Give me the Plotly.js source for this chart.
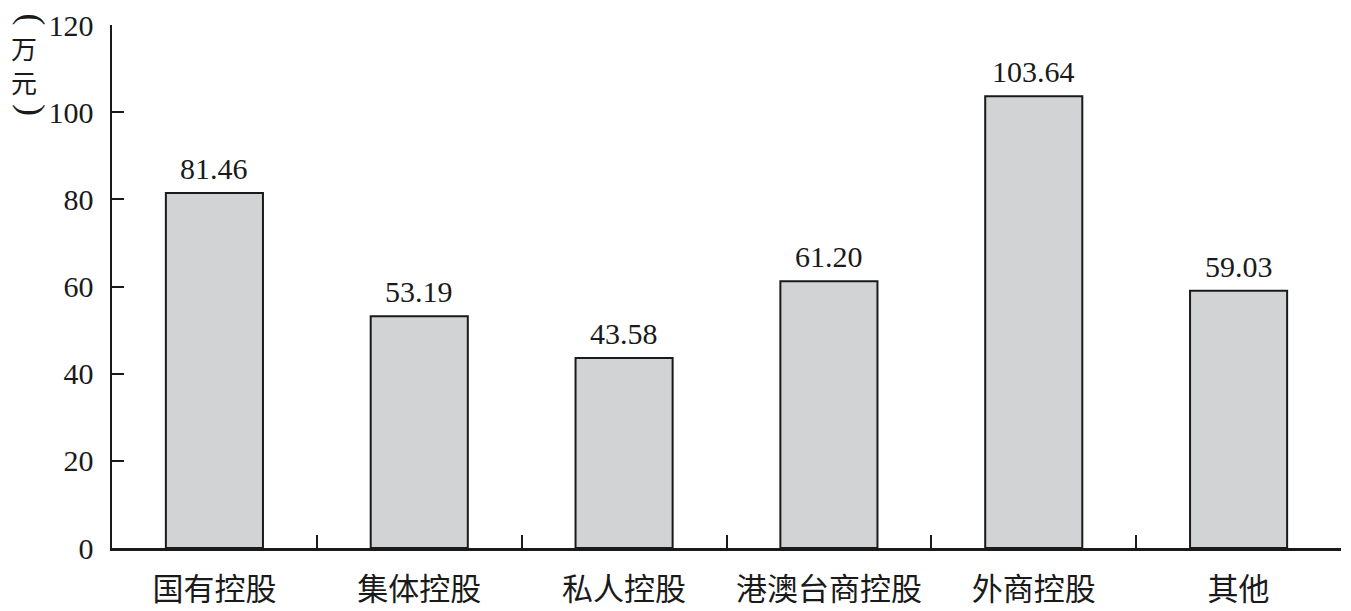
<!DOCTYPE html>
<html>
<head>
<meta charset="utf-8">
<script src="https://cdn.plot.ly/plotly-3.0.1.min.js"></script>
<style>
  body { margin: 0; background: #fff; }
  #chart { width: 1351px; height: 611px; }
</style>
</head>
<body>
<div id="chart"></div>
<script>
const CATEGORIES = ['国有控股', '集体控股', '私人控股', '港澳台商控股', '外商控股', '其他']
const VALUES = [81.46, 53.19, 43.58, 61.20, 103.64, 59.03]
const Y_TICKS = [0, 20, 40, 60, 80, 100, 120]

const INK = '#1a1a1a'
const SERIF = 'Liberation Serif, Times New Roman, Noto Sans CJK SC, serif'
const CJK = 'Noto Sans CJK SC, sans-serif'

let data = [
  {
    type: 'bar',
    x: CATEGORIES,
    y: VALUES,
    marker: {
      color: '#d1d3d5',
      line: { color: INK, width: 2 }
    },
    hoverinfo: 'skip'
  }
]

// value labels above each bar
let annotations = CATEGORIES.map((c, i) => ({
  x: c,
  y: VALUES[i],
  text: VALUES[i].toFixed(2),
  showarrow: false,
  yanchor: 'bottom',
  yshift: 6,
  font: { family: SERIF, size: 30, color: INK }
}))

// vertical unit label: rotated brackets round the stacked characters
annotations.push(
  {
    xref: 'paper', yref: 'paper', x: -0.083, y: 1.026,
    text: '(', textangle: 90, showarrow: false,
    font: { family: SERIF, size: 36, color: INK }
  },
  {
    xref: 'paper', yref: 'paper', x: -0.0716, y: 0.9245,
    text: '万<br>元', showarrow: false,
    xanchor: 'center', yanchor: 'middle',
    font: { family: CJK, size: 26, color: INK }
  },
  {
    xref: 'paper', yref: 'paper', x: -0.083, y: 0.853,
    text: ')', textangle: 90, showarrow: false,
    font: { family: SERIF, size: 36, color: INK }
  }
)

let layout = {
  width: 1351,
  height: 611,
  paper_bgcolor: '#fff',
  plot_bgcolor: '#fff',
  showlegend: false,
  bargap: 0.526,
  margin: { l: 112, r: 10, t: 25, b: 63 },
  xaxis: {
    type: 'category',
    showgrid: false,
    zeroline: false,
    showline: true,
    linecolor: INK,
    linewidth: 2.5,
    ticks: 'inside',
    tickson: 'boundaries',
    ticklen: 13,
    tickwidth: 2,
    tickcolor: INK,
    ticklabelstandoff: 12,
    tickfont: { family: SERIF, size: 31, color: INK },
    fixedrange: true
  },
  yaxis: {
    range: [0, 120],
    tickvals: Y_TICKS,
    showgrid: false,
    zeroline: false,
    showline: true,
    linecolor: INK,
    linewidth: 2.5,
    ticks: 'inside',
    ticklen: 12,
    tickwidth: 2,
    tickcolor: INK,
    ticklabelstandoff: 10,
    tickfont: { family: SERIF, size: 30, color: INK },
    fixedrange: true
  },
  annotations: annotations
}

let config = {
  displayModeBar: false,
  staticPlot: true
}

Plotly.newPlot('chart', data, layout, config)
</script>
</body>
</html>
